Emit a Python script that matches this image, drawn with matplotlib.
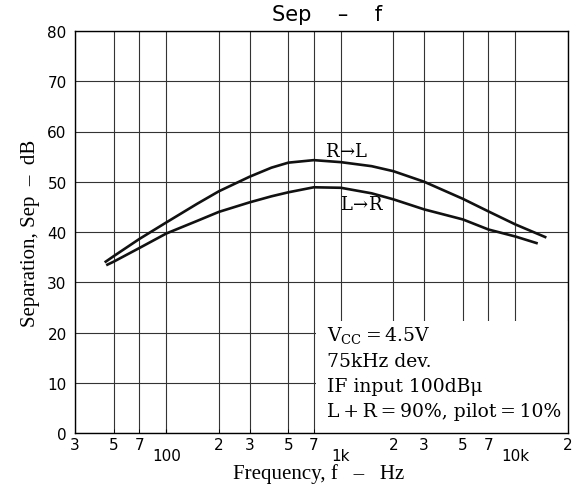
import matplotlib
matplotlib.use("Agg")
import matplotlib.pyplot as plt
from matplotlib.patches import Rectangle

# values
freq_rl = [45, 50, 70, 100, 150, 200, 300, 400, 500, 700, 1000, 1500, 2000, 3000, 5000, 7000, 10000, 14800]
sep_rl = [34.1, 35.2, 38.6, 41.9, 45.6, 48.1, 51.0, 52.8, 53.8, 54.3, 53.9, 53.1, 52.1, 50.0, 46.6, 44.1, 41.5, 39.0]

freq_lr = [46, 50, 70, 100, 150, 200, 300, 400, 500, 700, 1000, 1500, 2000, 3000, 5000, 7000, 10000, 13200]
sep_lr = [33.5, 34.1, 36.8, 39.7, 42.2, 44.0, 45.9, 47.1, 47.9, 48.9, 48.8, 47.7, 46.5, 44.5, 42.5, 40.5, 39.1, 37.8]

digit_ticks = [30, 50, 70, 200, 300, 500, 700, 2000, 3000, 5000, 7000, 20000]
digit_labels = ["3", "5", "7", "2", "3", "5", "7", "2", "3", "5", "7", "2"]
decade_ticks = [100, 1000, 10000]
decade_labels = ["100", "1k", "10k"]
y_ticks = [0, 10, 20, 30, 40, 50, 60, 70, 80]

notes = ["V$_{\\rm CC}$\u2009=\u20094.5V", "75kHz dev.", "IF input 100dBμ",
         "L\u2009+\u2009R\u2009=\u200990%, pilot\u2009=\u200910%"]

plt.rcParams["mathtext.fontset"] = "dejavuserif"

fig = plt.figure(figsize=(5.8, 4.85), dpi=100)
ax = fig.add_axes([75 / 580, 1 - 434 / 485, (568 - 75) / 580, (434 - 32) / 485])

ax.set_xscale("log")
ax.set_xlim(30, 20000)
ax.set_ylim(0, 80)

# grid
for f in digit_ticks + decade_ticks:
    ax.axvline(f, color="#333333", lw=0.8, zorder=1)
for v in y_ticks:
    ax.axhline(v, color="#333333", lw=0.8, zorder=1)

# blank area behind the conditions text
ax.add_patch(Rectangle((720, 0), 20000 - 720, 22.3, facecolor="white", edgecolor="none", zorder=2))

ax.plot(freq_rl, sep_rl, color="#111111", lw=1.9, zorder=3)
ax.plot(freq_lr, sep_lr, color="#111111", lw=1.9, zorder=3)

ax.text(1084, 56.2, "R$\\!\\rightarrow\\!$L", family="DejaVu Serif", fontsize=13, ha="center", va="center", zorder=4)
ax.text(1320, 45.6, "L$\\!\\rightarrow\\!$R", family="DejaVu Serif", fontsize=13, ha="center", va="center", zorder=4)

ys = [19.6, 14.3, 9.3, 4.4]
for txt, yy in zip(notes, ys):
    ax.text(835, yy, txt, family="DejaVu Serif", fontsize=13.5, ha="left", va="center", zorder=4)

ax.set_xticks(decade_ticks)
ax.set_xticklabels(decade_labels)
ax.set_xticks(digit_ticks, minor=True)
ax.set_xticklabels(digit_labels, minor=True)
ax.tick_params(axis="x", which="minor", direction="in", length=3, pad=3, labelsize=11)
ax.tick_params(axis="x", which="major", direction="in", length=3, pad=11, labelsize=11)
ax.set_yticks(y_ticks)
ax.tick_params(axis="y", direction="in", length=0, pad=6, labelsize=11)

for s in ax.spines.values():
    s.set_linewidth(1.0)
    s.set_zorder(5)

fig.text(327 / 580, 1 - 15 / 485, "Sep    –    f", fontsize=15, ha="center", va="center")
ax.set_xlabel("Frequency, f   –   Hz", family="Liberation Serif", fontsize=15)
ax.xaxis.set_label_coords(0.494, -0.075)
ax.set_ylabel("Separation, Sep  –  dB", family="Liberation Serif", fontsize=15)
ax.yaxis.set_label_coords(-0.07, 0.5)

fig.savefig("out.png", dpi=100)
